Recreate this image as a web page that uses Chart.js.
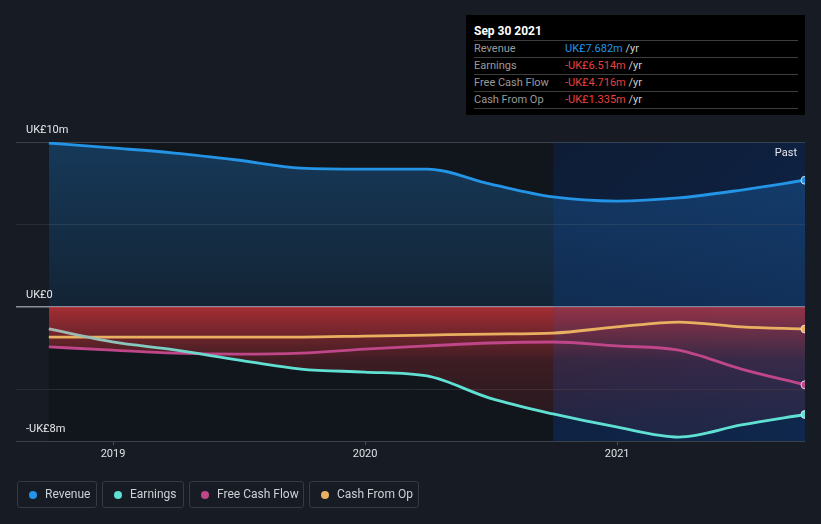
<!DOCTYPE html>
<html>
<head>
<meta charset="utf-8">
<script src="https://cdn.jsdelivr.net/npm/chart.js@4.4.0/dist/chart.umd.min.js"></script>
<style>
  html, body { margin:0; padding:0; background:#161b24; width:821px; height:524px; overflow:hidden; font-family: Roboto, "Noto Sans", sans-serif; }
  #wrap { position:relative; width:821px; height:524px; }
  canvas { position:absolute; left:0; top:0; }
  #tip { position:absolute; left:466px; top:15px; width:339px; height:100px; background:#000; box-sizing:border-box; }
  #tip .title { position:absolute; left:8px; top:9px; line-height:14px; color:#fff; font-weight:bold; font-size:12px; }
  #tip .row { position:absolute; left:8px; width:324px; height:17px; border-top:1px solid #3d3d3d; font-size:11px; line-height:16px; }
  #tip .row .lab { position:absolute; left:0; color:#9a9a9a; }
  #tip .row .val { position:absolute; left:91px; }
  #tip .row .unit { color:#cfcfcf; }
  #tip .last { position:absolute; left:8px; width:324px; top:93px; border-top:1px solid #3d3d3d; }
  #legend { position:absolute; left:17px; top:481px; height:27px; }
  .item { position:absolute; top:0; border:1px solid #353a44; border-radius:3px; box-sizing:border-box; height:27px; color:#cdd1d6; font-size:12px; line-height:25px; }
  .item .dot { position:absolute; left:11px; top:9px; width:8px; height:8px; border-radius:50%; }
  .item .txt { position:absolute; left:27px; white-space:nowrap; }
</style>
</head>
<body>
<div id="wrap">
  <canvas id="c" width="821" height="524"></canvas>
  <div id="tip"></div>
  <div id="legend"></div>
</div>
<script>
// ---- data ----
const periods = ['2018-09-30','2018-12-31','2019-03-31','2019-06-30','2019-09-30','2019-12-31','2020-03-31','2020-06-30','2020-09-30','2020-12-31','2021-03-31','2021-06-30','2021-09-30'];
const revenue = [9.94, 9.64, 9.33, 8.91, 8.42, 8.36, 8.36, 7.46, 6.67, 6.42, 6.61, 7.09, 7.682];
const earnings = [-1.33, -2.12, -2.6, -3.2, -3.76, -3.94, -4.18, -5.52, -6.48, -7.27, -7.88, -7.15, -6.514];
const freeCashFlow = [-2.42, -2.61, -2.79, -2.85, -2.79, -2.55, -2.36, -2.18, -2.12, -2.36, -2.61, -3.76, -4.716];
const cashFromOp = [-1.82, -1.82, -1.82, -1.82, -1.82, -1.76, -1.70, -1.64, -1.58, -1.21, -0.91, -1.2, -1.335];
const seriesNames = ['Revenue', 'Earnings', 'Free Cash Flow', 'Cash From Op'];
const seriesColors = ['#2394e6', '#5fe0d3', '#c0468a', '#e8b060'];
const xTickYears = [2019, 2020, 2021];
const yGridValues = [10, 5, 0, -5, -8.12];
const yLabelValues = [10, 0, -8.12];
const yLabelTexts = ['UK£10m', 'UK£0', '-UK£8m'];
const pastStart = '2020-09-30';
const tooltipTitle = 'Sep 30 2021';

function yearFrac(s) {
  const [y, m, d] = s.split('-').map(Number);
  const start = Date.UTC(y, 0, 1), end = Date.UTC(y + 1, 0, 1);
  return y + (Date.UTC(y, m - 1, d) - start) / (end - start);
}
const xs = periods.map(yearFrac);
const pts = arr => arr.map((v, i) => ({ x: xs[i], y: v }));
const last = periods.length - 1;

// ---- tooltip & legend (HTML text) ----
(function () {
  const tip = document.getElementById('tip');
  const vals = [revenue[last], earnings[last], freeCashFlow[last], cashFromOp[last]];
  let h = '<div class="title">' + tooltipTitle + '</div>';
  const tops = [25, 42, 59, 76];
  vals.forEach((v, i) => {
    const col = v >= 0 ? '#2394e6' : '#e8413f';
    const txt = (v < 0 ? '-' : '') + 'UK£' + Math.abs(v).toFixed(3) + 'm';
    h += '<div class="row" style="top:' + tops[i] + 'px"><span class="lab">' + seriesNames[i] + '</span><span class="val"><span style="color:' + col + '">' + txt + '</span> <span class="unit">/yr</span></span></div>';
  });
  h += '<div class="last"></div>';
  tip.innerHTML = h;
  const lg = document.getElementById('legend');
  const lefts = [0, 85, 172, 292], widths = [80, 82, 115, 110];
  lg.innerHTML = seriesNames.map((n, i) =>
    '<div class="item" style="left:' + lefts[i] + 'px;width:' + widths[i] + 'px"><span class="dot" style="background:' + seriesColors[i] + '"></span><span class="txt">' + n + '</span></div>'
  ).join('');
})();

// ---- plugins ----
const bgPlugin = {
  id: 'bg',
  beforeDraw(chart) {
    const { ctx, chartArea: a, scales: { x } } = chart;
    const x0 = x.getPixelForValue(xs[0]);
    const xp = x.getPixelForValue(yearFrac(pastStart));
    ctx.save();
    ctx.fillStyle = '#11151c';
    ctx.fillRect(x0, a.top, xp - x0, a.bottom - a.top);
    const g = ctx.createLinearGradient(xp, a.top, a.right, a.bottom);
    g.addColorStop(0, '#0b1526');
    g.addColorStop(1, '#0c2240');
    ctx.fillStyle = g;
    ctx.fillRect(xp, a.top, a.right - xp, a.bottom - a.top);
    ctx.restore();
  }
};
const overlayPlugin = {
  id: 'overlay',
  beforeDatasetsDraw(chart) {
    const { ctx, chartArea: a, scales: { x } } = chart;
    const xp = x.getPixelForValue(yearFrac(pastStart));
    ctx.save();
    ctx.fillStyle = 'rgba(40,80,170,0.12)';
    ctx.fillRect(xp, a.top, a.right - xp, a.bottom - a.top);
    ctx.restore();
  }
};
const textPlugin = {
  id: 'texts',
  afterDraw(chart) {
    const { ctx, chartArea: a, scales: { y } } = chart;
    ctx.save();
    ctx.font = '11px Roboto, "Noto Sans", sans-serif';
    ctx.fillStyle = '#e6e8eb';
    ctx.textBaseline = 'middle';
    ctx.textAlign = 'left';
    yLabelValues.forEach((v, i) => {
      ctx.fillText(yLabelTexts[i], 26, y.getPixelForValue(v) - 12);
    });
    ctx.textAlign = 'right';
    ctx.fillText('Past', a.right - 8, a.top + 11);
    ctx.restore();
  }
};

function revFill(c) {
  const ch = c.chart, y = ch.scales.y;
  if (!ch.chartArea || !y) return 'rgba(33,140,230,0.2)';
  const g = ch.ctx.createLinearGradient(0, y.getPixelForValue(10), 0, y.getPixelForValue(0));
  g.addColorStop(0, 'rgba(33,140,230,0.30)');
  g.addColorStop(1, 'rgba(33,140,230,0.12)');
  return g;
}
function redFill(c) {
  const ch = c.chart, y = ch.scales.y;
  if (!ch.chartArea || !y) return 'rgba(220,55,60,0.3)';
  const g = ch.ctx.createLinearGradient(0, y.getPixelForValue(0), 0, ch.chartArea.bottom);
  g.addColorStop(0, 'rgba(220,55,60,0.72)');
  g.addColorStop(0.28, 'rgba(220,55,60,0.37)');
  g.addColorStop(0.4, 'rgba(220,55,60,0.22)');
  g.addColorStop(0.69, 'rgba(220,55,60,0.14)');
  g.addColorStop(1, 'rgba(220,55,60,0.08)');
  return g;
}
function earnLine(c) {
  const ch = c.chart, x = ch.scales.x;
  if (!ch.chartArea || !x) return seriesColors[1];
  const g = ch.ctx.createLinearGradient(x.getPixelForValue(xs[0]), 0, x.getPixelForValue(xs[3]), 0);
  g.addColorStop(0, '#a7b3ad');
  g.addColorStop(1, seriesColors[1]);
  return g;
}
const endRadius = c => c.dataIndex === last ? 4 : 0;

const common = {
  borderWidth: 2.8,
  cubicInterpolationMode: 'monotone',
  pointRadius: endRadius,
  pointHoverRadius: endRadius,
  pointBorderWidth: 1,
  pointBorderColor: 'rgba(230,240,248,0.85)'
};

new Chart(document.getElementById('c'), {
  type: 'line',
  data: {
    datasets: [
      Object.assign({}, common, { label: seriesNames[0], data: pts(revenue), borderColor: seriesColors[0], pointBackgroundColor: seriesColors[0], backgroundColor: revFill, fill: 'origin' }),
      Object.assign({}, common, { label: seriesNames[1], data: pts(earnings), borderColor: earnLine, pointBackgroundColor: seriesColors[1], backgroundColor: redFill, fill: 'origin' }),
      Object.assign({}, common, { label: seriesNames[2], data: pts(freeCashFlow), borderColor: seriesColors[2], pointBackgroundColor: seriesColors[2], backgroundColor: redFill, fill: { target: 1, above: 'rgba(0,0,0,0)' } }),
      Object.assign({}, common, { label: seriesNames[3], data: pts(cashFromOp), borderColor: seriesColors[3], pointBackgroundColor: seriesColors[3], fill: false })
    ]
  },
  options: {
    responsive: false,
    animation: false,
    events: [],
    layout: { padding: { left: 16, right: 16, top: 142, bottom: 53 } },
    plugins: {
      legend: { display: false },
      tooltip: { enabled: false },
      filler: { drawTime: 'beforeDatasetsDraw' }
    },
    scales: {
      x: {
        type: 'linear',
        min: 2018.615,
        max: xs[last],
        afterBuildTicks: s => { s.ticks = xTickYears.map(v => ({ value: v })); },
        afterFit: s => { s.height = 30; },
        ticks: { color: '#dfe2e6', font: { size: 11, family: 'Roboto' }, padding: 3, maxRotation: 0, callback: v => String(v) },
        grid: { drawOnChartArea: false, color: '#4a4f58', tickLength: 4 },
        border: { display: false }
      },
      y: {
        min: -8.12,
        max: 10,
        afterBuildTicks: s => { s.ticks = yGridValues.map(v => ({ value: v })); },
        afterFit: s => { s.width = 0; },
        ticks: { display: false },
        grid: {
          drawTicks: false,
          lineWidth: c => c.tick && c.tick.value === 0 ? 1.5 : 1,
          color: c => {
            const v = c.tick ? c.tick.value : null;
            if (v === 0) return '#8c9096';
            if (v === 5 || v === -5) return '#272c35';
            return '#3b4049';
          }
        },
        border: { display: false }
      }
    }
  },
  plugins: [bgPlugin, overlayPlugin, textPlugin]
});
</script>
</body>
</html>
